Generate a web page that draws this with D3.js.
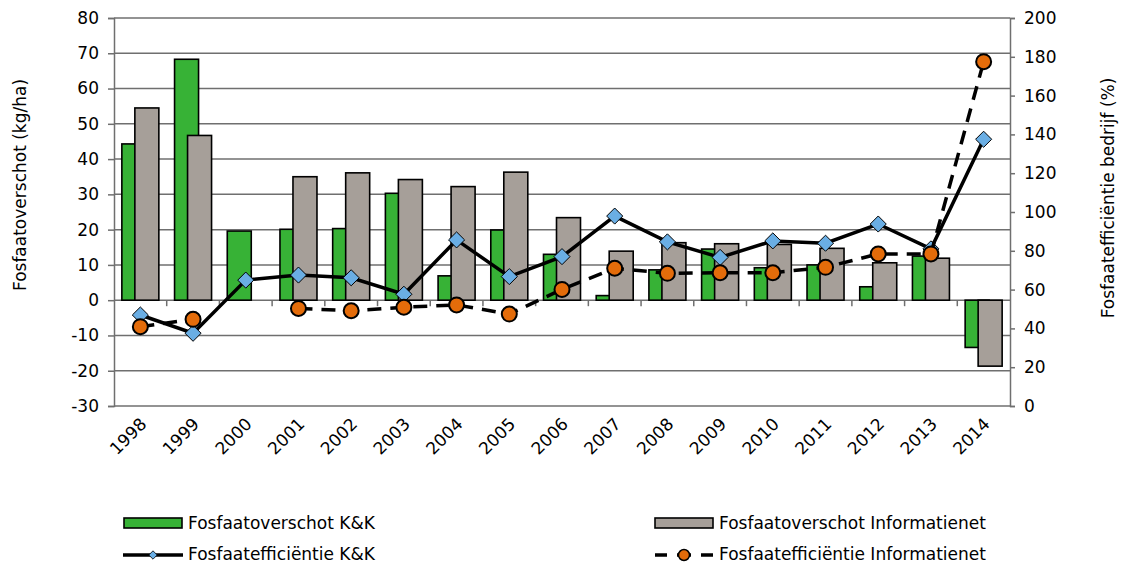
<!DOCTYPE html>
<html>
<head>
<meta charset="utf-8">
<script src="https://cdn.jsdelivr.net/npm/d3@7"></script>
<style>
  body { margin: 0; background: #fff; }
  svg text { font-family: "DejaVu Sans", Verdana, sans-serif; fill: #000; }
</style>
</head>
<body>
<script>
// data
var years = ["1998","1999","2000","2001","2002","2003","2004","2005","2006","2007","2008","2009","2010","2011","2012","2013","2014"];
var overschotKK = [44.3, 68.3, 19.6, 20.1, 20.3, 30.3, 6.9, 19.9, 13.0, 1.3, 8.6, 14.5, 9.2, 10.0, 3.8, 12.5, -13.4];
var overschotInfo = [54.5, 46.7, null, 35.0, 36.1, 34.2, 32.2, 36.3, 23.4, 13.9, 16.3, 16.0, 15.8, 14.7, 10.6, 11.9, -18.7];
var efficientieKK = [46.9, 37.5, 64.9, 67.5, 66.1, 57.6, 85.6, 66.7, 77.0, 97.9, 84.6, 76.6, 85.1, 83.9, 93.8, 81.0, 137.5];
var efficientieInfo = [40.9, 44.7, null, 50.3, 49.1, 50.9, 52.1, 47.4, 60.1, 71.0, 68.4, 68.7, 68.7, 71.5, 78.4, 78.4, 177.5];
var leftTicks = [80, 70, 60, 50, 40, 30, 20, 10, 0, -10, -20, -30];
var rightTicks = [200, 180, 160, 140, 120, 100, 80, 60, 40, 20, 0];

var colGreen = "#37b236", colGray = "#a69f99", colOrange = "#e46c0a", colBlue = "#6aaee4";
var colGrid = "#6f6f6f";

var width = 1122, height = 564;
var plot = {left: 114, right: 1010, top: 18, bottom: 406};

var svg = d3.select("body").append("svg")
    .attr("width", width)
    .attr("height", height);

var x = d3.scaleBand()
    .domain(years)
    .range([plot.left, plot.right]);

var yL = d3.scaleLinear().domain([-30, 80]).range([plot.bottom, plot.top]);
var yR = d3.scaleLinear().domain([0, 200]).range([plot.bottom, plot.top]);

// plain hyphen for negatives, like the original
function fmt(d) { return String(d); }

// gridlines
svg.append("g").selectAll("line")
    .data(leftTicks)
  .enter().append("line")
    .attr("x1", plot.left).attr("x2", plot.right)
    .attr("y1", function(d) { return yL(d); })
    .attr("y2", function(d) { return yL(d); })
    .attr("stroke", colGrid)
    .attr("stroke-width", 1.5);

// left axis
var gL = svg.append("g")
    .attr("transform", "translate(" + plot.left + ",0)")
    .call(d3.axisLeft(yL).tickValues(leftTicks).tickFormat(fmt).tickSize(6).tickPadding(9));
gL.selectAll("text").style("font-size", "17px");

// right axis
var gR = svg.append("g")
    .attr("transform", "translate(" + plot.right + ",0)")
    .call(d3.axisRight(yR).tickValues(rightTicks).tickFormat(fmt).tickSize(5).tickPadding(9));
gR.selectAll("text").style("font-size", "17px");

[gL, gR].forEach(function(g) {
  g.select(".domain").attr("stroke", colGrid).attr("stroke-width", 1.5);
  g.selectAll(".tick line").attr("stroke", colGrid).attr("stroke-width", 1.5);
});

// category axis at zero, ticks between categories
var bw = x.bandwidth();
svg.append("g").selectAll("line")
    .data(years.slice(1))
  .enter().append("line")
    .attr("x1", function(d) { return x(d); })
    .attr("x2", function(d) { return x(d); })
    .attr("y1", yL(0)).attr("y2", yL(0) + 6)
    .attr("stroke", colGrid)
    .attr("stroke-width", 1.5);

// year labels, rotated
svg.append("g").selectAll("text")
    .data(years)
  .enter().append("text")
    .attr("transform", function(d) {
      return "translate(" + (x(d) + bw / 2 + 3) + "," + (plot.bottom + 15) + ") rotate(-45)";
    })
    .attr("text-anchor", "end")
    .attr("dy", "0.35em")
    .style("font-size", "17px")
    .text(function(d) { return d; });

// bars
function barY(v) { return v >= 0 ? yL(v) : yL(0); }
function barH(v) { return Math.abs(yL(v) - yL(0)); }

svg.append("g").selectAll("rect")
    .data(years.map(function(y, i) { return {year: y, v: overschotKK[i]}; }))
  .enter().append("rect")
    .attr("x", function(d) { return x(d.year) + bw / 2 - 18.5; })
    .attr("width", 24)
    .attr("y", function(d) { return barY(d.v); })
    .attr("height", function(d) { return barH(d.v); })
    .attr("fill", colGreen)
    .attr("stroke", "#000")
    .attr("stroke-width", 1.6);

svg.append("g").selectAll("rect")
    .data(years.map(function(y, i) { return {year: y, v: overschotInfo[i]}; })
      .filter(function(d) { return d.v !== null; }))
  .enter().append("rect")
    .attr("x", function(d) { return x(d.year) + bw / 2 - 5.5; })
    .attr("width", 24)
    .attr("y", function(d) { return barY(d.v); })
    .attr("height", function(d) { return barH(d.v); })
    .attr("fill", colGray)
    .attr("stroke", "#000")
    .attr("stroke-width", 1.6);

// lines
var line = d3.line()
    .defined(function(d) { return d.v !== null; })
    .x(function(d) { return x(d.year) + bw / 2; })
    .y(function(d) { return yR(d.v); });

var kk = years.map(function(y, i) { return {year: y, v: efficientieKK[i]}; });
var info = years.map(function(y, i) { return {year: y, v: efficientieInfo[i]}; });

svg.append("path")
    .datum(kk)
    .attr("d", line)
    .attr("fill", "none")
    .attr("stroke", "#000")
    .attr("stroke-width", 3.5);

var diamond = d3.symbol().type(d3.symbolDiamond2).size(165);
svg.append("g").selectAll("path")
    .data(kk)
  .enter().append("path")
    .attr("d", diamond)
    .attr("transform", function(d) {
      return "translate(" + (x(d.year) + bw / 2) + "," + yR(d.v) + ")";
    })
    .attr("fill", colBlue)
    .attr("stroke", "#000")
    .attr("stroke-width", 1);

svg.append("path")
    .datum(info)
    .attr("d", line)
    .attr("fill", "none")
    .attr("stroke", "#000")
    .attr("stroke-width", 3.5)
    .attr("stroke-dasharray", "14,9");

svg.append("g").selectAll("circle")
    .data(info.filter(function(d) { return d.v !== null; }))
  .enter().append("circle")
    .attr("cx", function(d) { return x(d.year) + bw / 2; })
    .attr("cy", function(d) { return yR(d.v); })
    .attr("r", 7.5)
    .attr("fill", colOrange)
    .attr("stroke", "#000")
    .attr("stroke-width", 2);

// axis titles
svg.append("text")
    .attr("transform", "translate(20,185) rotate(-90)")
    .attr("text-anchor", "middle")
    .attr("dy", "0.35em")
    .style("font-size", "17px")
    .text("Fosfaatoverschot (kg/ha)");

svg.append("text")
    .attr("transform", "translate(1108,198) rotate(-90)")
    .attr("text-anchor", "middle")
    .attr("dy", "0.35em")
    .style("font-size", "17px")
    .text("Fosfaatefficiëntie bedrijf (%)");

// legend
var legend = svg.append("g");
function legendText(lx, ly, t) {
  legend.append("text")
    .attr("x", lx).attr("y", ly)
    .attr("dy", "0.35em")
    .style("font-size", "17px")
    .text(t);
}

legend.append("rect").attr("x", 124).attr("y", 518).attr("width", 58).attr("height", 10)
    .attr("fill", colGreen).attr("stroke", "#000").attr("stroke-width", 1.6);
legendText(188, 523, "Fosfaatoverschot K&K");

legend.append("rect").attr("x", 655).attr("y", 518).attr("width", 58).attr("height", 10)
    .attr("fill", colGray).attr("stroke", "#000").attr("stroke-width", 1.6);
legendText(719, 523, "Fosfaatoverschot Informatienet");

legend.append("line").attr("x1", 123).attr("x2", 183).attr("y1", 555).attr("y2", 555)
    .attr("stroke", "#000").attr("stroke-width", 3.5);
legend.append("path").attr("d", d3.symbol().type(d3.symbolDiamond2).size(45))
    .attr("transform", "translate(153,555)")
    .attr("fill", colBlue).attr("stroke", "#000").attr("stroke-width", 0.8);
legendText(188, 554, "Fosfaatefficiëntie K&K");

legend.append("line").attr("x1", 655).attr("x2", 713).attr("y1", 555).attr("y2", 555)
    .attr("stroke", "#000").attr("stroke-width", 3.5)
    .attr("stroke-dasharray", "12,10,14,10,12");
legend.append("circle").attr("cx", 684).attr("cy", 555).attr("r", 5.5)
    .attr("fill", colOrange).attr("stroke", "#000").attr("stroke-width", 1.5);
legendText(719, 554, "Fosfaatefficiëntie Informatienet");
</script>
</body>
</html>
